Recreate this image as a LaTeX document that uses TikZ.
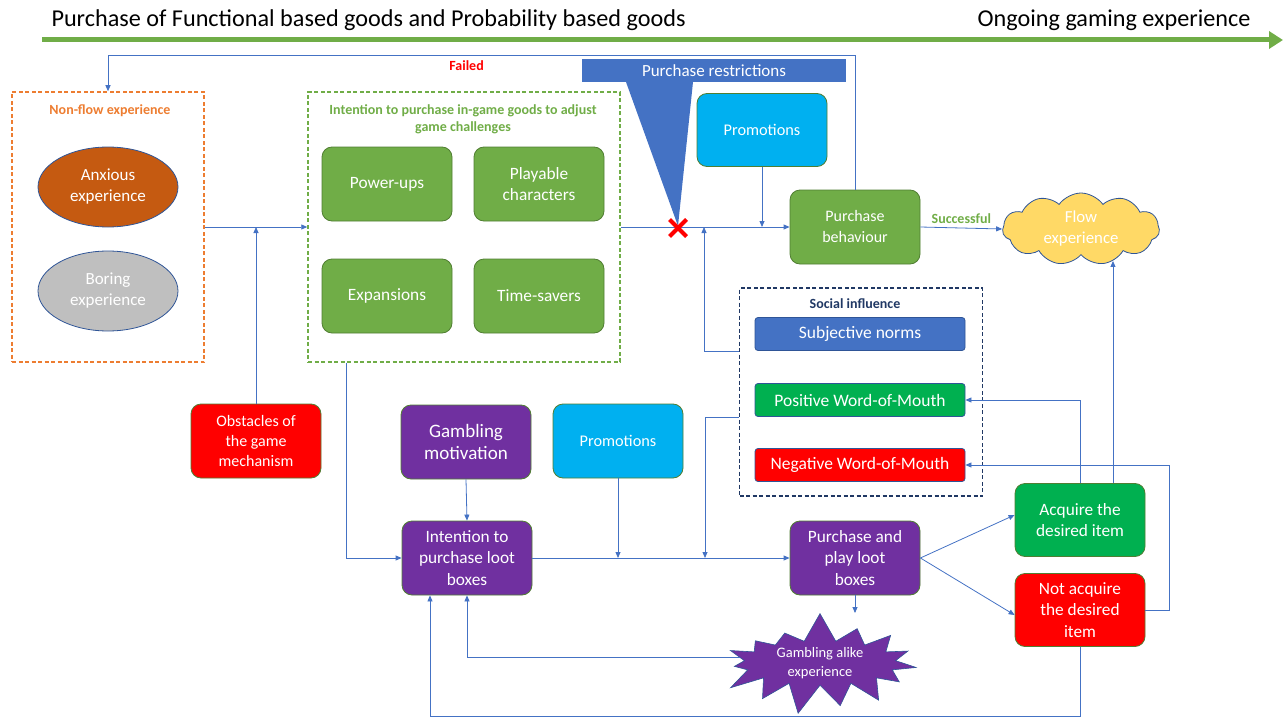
\documentclass[tikz,border=0pt]{standalone}
\usepackage{fontspec}
\setmainfont{Carlito}
\usetikzlibrary{arrows.meta,shapes.geometric,shapes.symbols,shapes.misc}
\definecolor{fgreen}{HTML}{70AD47}
\definecolor{dgreen}{HTML}{507E32}
\definecolor{bgreen}{HTML}{00B050}
\definecolor{forange}{HTML}{ED7D31}
\definecolor{anx}{HTML}{C55A11}
\definecolor{bor}{HTML}{BFBFBF}
\definecolor{lblue}{HTML}{4472C4}
\definecolor{eblue}{HTML}{2F5597}
\definecolor{fcyan}{HTML}{00B0F0}
\definecolor{fpurple}{HTML}{7030A0}
\definecolor{fred}{HTML}{FF0000}
\definecolor{fyellow}{HTML}{FFD966}
\definecolor{navy}{HTML}{203864}

\begin{document}
\begin{tikzpicture}[x=1pt,y=-1pt,
	box/.style={draw=dgreen,line width=0.8pt,rounded corners=10pt,minimum width=130pt,minimum height=74pt,text=white,align=center,font=\fontsize{17.3}{21.5}\selectfont},
	bar/.style={draw=eblue,line width=0.8pt,rounded corners=3pt,minimum width=210pt,minimum height=33pt,text=white,font=\fontsize{17.5}{20}\selectfont},
	oval/.style={ellipse,draw=eblue,line width=0.8pt,minimum width=140pt,minimum height=80pt,text=white,align=center,font=\fontsize{17}{21}\selectfont},
	group/.style={dash pattern=on 4pt off 2.5pt,line width=1.5pt,minimum width=#1},
	lbl/.style={font=\fontsize{14}{17}\selectfont\bfseries,align=center},
	conn/.style={draw=lblue,line width=0.8pt,-{Triangle[length=6pt,width=5pt]}},
	plain/.style={draw=lblue,line width=0.8pt}]
	\useasboundingbox (0,0) rectangle (1286,717);
	
	% timeline
	\coordinate (tstart) at (42,40);
	\coordinate (tend) at (1283,40);
	\draw[fgreen,line width=5pt,-{Triangle[length=14pt,width=17pt]}] (tstart) -- (tend);
	\node[anchor=west,font=\fontsize{24.2}{28}\selectfont] (tleft) at (48,20) {Purchase of Functional based goods and Probability based goods};
	\node[anchor=east,font=\fontsize{24.2}{28}\selectfont] (tright) at (1254,20) {Ongoing gaming experience};
	
	% non-flow experience
	\node[group=192pt,draw=forange,minimum height=270pt] (nonflow) at (108,227) {};
	\node[lbl,text=forange] (nonflowl) at (110,111) {Non-flow experience};
	\node[oval,fill=anx] (anx) at (108,187) {Anxious\\experience};
	\node[oval,fill=bor] (bor) at (108,291) {Boring\\experience};
	
	% in-game goods
	\node[group=312pt,draw=fgreen,minimum height=270pt] (intent) at (464,227) {};
	\node[lbl,text=fgreen] (intentl) at (463,119) {Intention to purchase in-game goods to adjust\\game challenges};
	\node[box,fill=fgreen] (pow) at (387,184) {Power-ups};
	\node[box,fill=fgreen] (play) at (539,184) {Playable\\characters};
	\node[box,fill=fgreen] (exp) at (387,296) {Expansions};
	\node[box,fill=fgreen] (time) at (539,296) {Time-savers};
	
	\node[box,fill=fred,font=\fontsize{16}{20}\selectfont] (obst) at (256,441) {Obstacles of\\the game\\mechanism};
	
	% restrictions
	\coordinate (tip) at (678,226);
	\fill[lblue] (626,82) -- (693,82) -- (tip) -- cycle;
	\node[fill=lblue,minimum width=264pt,minimum height=23pt,inner sep=0pt,text=white,font=\fontsize{17}{20}\selectfont] (restr) at (714,71) {Purchase restrictions};
	
	\node[box,fill=fcyan,minimum height=73pt,font=\fontsize{16.3}{20}\selectfont] (promoa) at (762,130) {Promotions};
	\node[box,fill=fgreen,font=\fontsize{16}{21}\selectfont] (pb) at (855,227) {Purchase\\behaviour};
	\node[cloud,cloud puffs=11,cloud puff arc=110,aspect=2.2,draw=eblue,line width=0.8pt,fill=fyellow,minimum width=157pt,minimum height=72pt,inner sep=0pt,text=white,align=center,font=\fontsize{16.8}{21}\selectfont] (flow) at (1081,229) {Flow\\experience};
	
	% social influence
	\node[group=243pt,draw=navy,minimum height=208pt] (social) at (861,392) {};
	\node[lbl,text=navy] (sociall) at (855,304) {Social influence};
	\node[bar,fill=lblue] (subj) at (860,334) {Subjective norms};
	\node[bar,fill=bgreen] (pwom) at (860,400) {Positive Word-of-Mouth};
	\node[bar,fill=fred] (nwom) at (860,465) {Negative Word-of-Mouth};
	
	% loot boxes
	\node[box,fill=fpurple,font=\fontsize{19}{22}\selectfont] (gm) at (466,442) {Gambling\\motivation};
	\node[box,fill=fcyan,font=\fontsize{16.3}{20}\selectfont] (promob) at (618,441) {Promotions};
	\node[box,fill=fpurple] (itplb) at (467,558) {Intention to\\purchase loot\\boxes};
	\node[box,fill=fpurple] (pplb) at (855,558) {Purchase and\\play loot\\boxes};
	\node[box,fill=bgreen,minimum height=73pt] (acq) at (1080,520) {Acquire the\\desired item};
	\node[box,fill=fred,minimum height=73pt] (nacq) at (1080,610) {Not acquire\\the desired\\item};
	\node[starburst,starburst points=15,starburst point height=30pt,random starburst=7,fill=fpurple,draw=eblue,line width=0.6pt,minimum width=212pt,minimum height=88pt,inner sep=0pt,text=white,align=center,font=\fontsize{14.5}{19}\selectfont] (star) at (820,663) {Gambling alike\\experience};
	
	% connectors
	\coordinate (jn) at (704,227);
	\coordinate (jnb) at (705,558);
	\draw[conn] (nonflow.east) -- (intent.west);
	\draw[conn] (obst.north) -- (obst.north |- nonflow.east);
	\draw[conn] (intent.east) -- (pb.west);
	\draw[conn] (promoa.south) -- (promoa.south |- pb.west);
	\draw[conn] (social.west |- subj.south) -| (jn);
	\draw[conn] (pb.east) -- node[lbl,text=fgreen,above=1pt] {Successful} (flow.west);
	\draw[conn] (pb.north) -- (pb.north |- 0,55) -| node[pos=0.26,lbl,text=fred,below=2pt] {Failed} (nonflow.north);
	\node[cross out,draw=fred,line width=4pt,minimum size=13pt,inner sep=0pt] (xmark) at (678,228) {};
	
	\draw[conn] ([xshift=-118pt]intent.south) |- (itplb.west);
	\draw[conn] (gm.south) -- (itplb.north);
	\draw[conn] (itplb.east) -- (pplb.west);
	\draw[conn] (promob.south) -- (promob.south |- itplb.east);
	\draw[conn] (social.west |- pwom.south) -| (jnb);
	\draw[conn] (pplb.east) -- ([yshift=5pt]acq.west);
	\draw[conn] (pplb.east) -- ([yshift=-5pt]nacq.west);
	\draw[conn] (acq.north) |- (pwom.east);
	\draw[conn] (acq.north -| flow.-45) -- (flow.-45);
	\draw[conn] (nacq.east) -- ++(24,0) |- (nwom.east);
	\draw[conn] (nacq.south) -- ++(0,69) -| ([xshift=-37pt]itplb.south);
	\draw[conn] (pplb.south) -- (pplb.south |- star.north);
	\draw[conn] (star.west |- 0,657) -| (itplb.south);
\end{tikzpicture}
\end{document}
